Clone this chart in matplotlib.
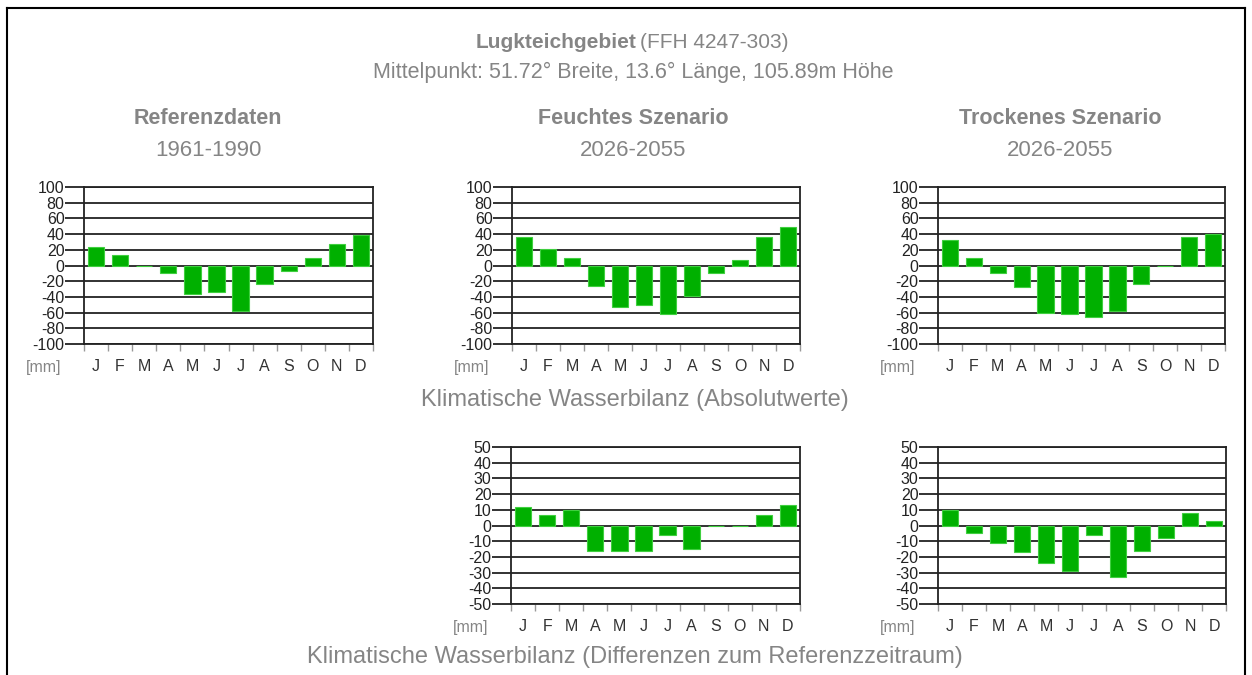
import numpy as np
import matplotlib.pyplot as plt

W, H = 1252, 675

months = ['J', 'F', 'M', 'A', 'M', 'J', 'J', 'A', 'S', 'O', 'N', 'D']

# Klimatische Wasserbilanz, Absolutwerte [mm]
ref_abs = [24, 14, 0, -10, -36, -34, -58, -24, -7, 10, 28, 39]
feucht_abs = [36, 21, 10, -26, -53, -50, -62, -39, -10, 7, 36, 49]
trocken_abs = [33, 10, -10, -27, -60, -62, -65, -58, -24, 0, 36, 40]

# Differenzen zum Referenzzeitraum [mm]
feucht_diff = [12, 7, 10, -16, -16, -16, -6, -15, 0, 0, 7, 13]
trocken_diff = [10, -5, -11, -17, -24, -29, -6, -33, -16, -8, 8, 3]

col_titles = ['Referenzdaten', 'Feuchtes Szenario', 'Trockenes Szenario']
col_periods = ['1961-1990', '2026-2055', '2026-2055']

GRAY = '#858585'
GREEN = '#00b000'
FONT = 'Liberation Sans'

plt.rcParams['font.family'] = FONT

fig = plt.figure(figsize=(W / 100, H / 100), dpi=100)


def px_axes(left, top, right, bottom):
    return fig.add_axes([left / W, 1 - bottom / H, (right - left) / W, (bottom - top) / H])


def bar_panel(ax, vals, lim, step):
    x = np.arange(12) + 0.5
    ax.bar(x, vals, width=0.68, color=GREEN, edgecolor='#3fcf3f', linewidth=0.8, zorder=3)
    ax.set_xlim(0, 12)
    ax.set_ylim(-lim, lim)
    yt = np.arange(-lim, lim + 1, step)
    ax.set_yticks(yt)
    ax.set_yticklabels([str(v) for v in yt], fontsize=11.5, color='#222222')
    for v in yt:
        ax.axhline(v, color='#222222', linewidth=1.3, zorder=1)
    ax.set_xticks(np.arange(13))
    ax.set_xticklabels([])
    ax.set_xticks(x, minor=True)
    ax.set_xticklabels(months, minor=True, fontsize=11.5, color='#333333')
    ax.tick_params(axis='x', which='major', length=5, color='#999999', width=1)
    ax.tick_params(axis='x', which='minor', length=0, pad=11)
    ax.tick_params(axis='y', length=14, width=1.3, color='#222222', pad=0)
    for s in ax.spines.values():
        s.set_color('#222222')
        s.set_linewidth(1.3)
    ax.text(-0.08, -0.148, '[mm]', transform=ax.transAxes, ha='right', va='center',
            fontsize=11.5, color=GRAY)


# top row: absolute values
top_cols = [(84, 373), (512, 800), (938, 1225)]
for (l, r), vals in zip(top_cols, [ref_abs, feucht_abs, trocken_abs]):
    ax = px_axes(l, 187, r, 344)
    bar_panel(ax, vals, 100, 20)

# bottom row: differences
for (l, r), vals in zip([(511, 800), (938, 1226)], [feucht_diff, trocken_diff]):
    ax = px_axes(l, 447, r, 604)
    bar_panel(ax, vals, 50, 10)

# headings
fig.text(0.508, 1 - 42 / H, 'Lugkteichgebiet', ha='right', va='center',
         fontsize=15, fontweight='bold', color=GRAY)
fig.text(0.511, 1 - 42 / H, '(FFH 4247-303)', ha='left', va='center',
         fontsize=15, color=GRAY)
fig.text(633 / W, 1 - 72 / H, 'Mittelpunkt: 51.72° Breite, 13.6° Länge, 105.89m Höhe',
         ha='center', va='center', fontsize=15.5, color=GRAY)

for cx, t, p in zip([208, 633, 1060], col_titles, col_periods):
    fig.text(cx / W, 1 - 118 / H, t, ha='center', va='center', fontsize=15.5,
             fontweight='bold', color=GRAY)
    fig.text(cx / W, 1 - 150 / H, p, ha='center', va='center', fontsize=16, color=GRAY)

fig.text(635 / W, 1 - 400 / H, 'Klimatische Wasserbilanz (Absolutwerte)',
         ha='center', va='center', fontsize=17, color=GRAY)
fig.text(635 / W, 1 - 657 / H, 'Klimatische Wasserbilanz (Differenzen zum Referenzzeitraum)',
         ha='center', va='center', fontsize=17, color=GRAY)

# outer frame
frame = fig.add_axes([7 / W, 0, (1245 - 7) / W, 1 - 8 / H])
frame.set_xticks([])
frame.set_yticks([])
frame.patch.set_alpha(0)
frame.spines['bottom'].set_visible(False)
for s in ['left', 'top', 'right']:
    frame.spines[s].set_linewidth(1.5)
frame.set_zorder(-1)

plt.savefig('out.png', dpi=100)
